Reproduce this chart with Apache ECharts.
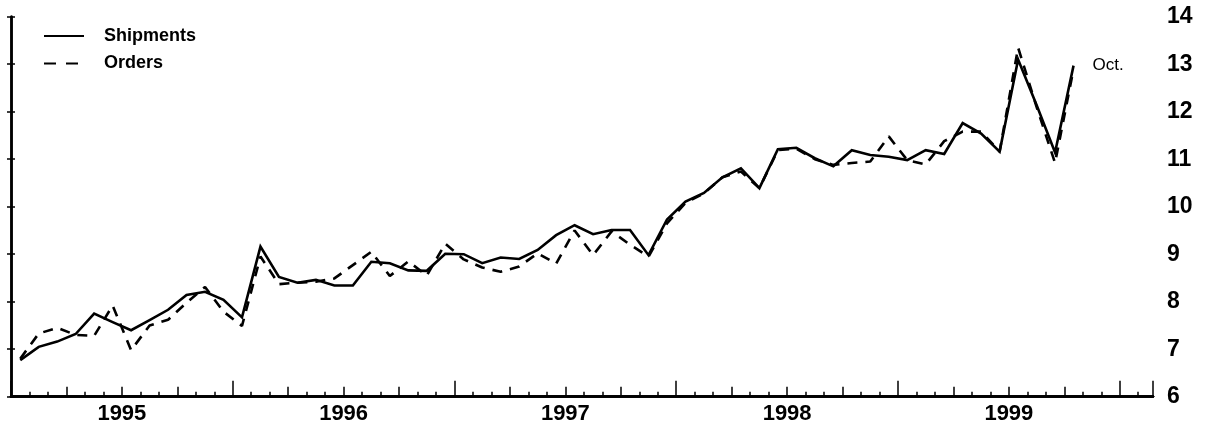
<!DOCTYPE html>
<html>
<head>
<meta charset="utf-8">
<script src="https://cdn.jsdelivr.net/npm/echarts@6/dist/echarts.min.js"></script>
<style>
  html, body { margin: 0; padding: 0; background: #fff; }
  #chart { width: 1212px; height: 430px; }
</style>
</head>
<body>
<div id="chart"></div>
<script>
// Monthly data, Jan 1995 .. Oct 1999
const startYear = 1995;
const shipments = [
  6.77, 7.05, 7.16, 7.32, 7.75, 7.57, 7.40, 7.61, 7.83, 8.14, 8.21, 8.04,
  7.67, 9.16, 8.52, 8.40, 8.46, 8.34, 8.34, 8.84, 8.81, 8.66, 8.65, 9.01,
  9.00, 8.81, 8.93, 8.90, 9.09, 9.40, 9.61, 9.42, 9.51, 9.51, 8.98, 9.73,
  10.11, 10.29, 10.62, 10.81, 10.39, 11.21, 11.24, 11.02, 10.85, 11.19, 11.09, 11.05,
  10.98, 11.19, 11.11, 11.76, 11.54, 11.16, 13.10, 12.14, 11.14, 12.97
];
const orders = [
  6.80, 7.33, 7.45, 7.30, 7.28, 7.92, 6.98, 7.50, 7.62, 7.98, 8.31, 7.79,
  7.49, 8.95, 8.37, 8.40, 8.42, 8.49, 8.77, 9.05, 8.54, 8.85, 8.55, 9.22,
  8.89, 8.72, 8.63, 8.74, 9.02, 8.80, 9.50, 8.98, 9.48, 9.20, 8.95, 9.65,
  10.08, 10.28, 10.62, 10.74, 10.39, 11.19, 11.22, 11.00, 10.88, 10.92, 10.95, 11.48,
  10.98, 10.89, 11.38, 11.58, 11.58, 11.16, 13.35, 12.10, 10.92, 12.90
];
const yearLabels = ['1995', '1996', '1997', '1998', '1999'];
const yTicks = [6, 7, 8, 9, 10, 11, 12, 13, 14];
const seriesNames = ['Shipments', 'Orders'];
const lastLabel = 'Oct.';

const FONT = '"Liberation Sans", Arial, Helvetica, sans-serif';
const xMax = 61.8;

function toPoints(arr) {
  return arr.map((v, i) => [i + 0.5, v]);
}

const baseX = {
  type: 'value', min: 0, max: xMax, position: 'bottom',
  splitLine: { show: false },
  axisLine: { show: true, onZero: false, lineStyle: { color: '#000', width: 2.5 } }
};

const chart = echarts.init(document.getElementById('chart'), null, { renderer: 'canvas' });
chart.setOption({
  backgroundColor: '#fff',
  animation: false,
  textStyle: { fontFamily: FONT },
  grid: { left: 11, right: 59, top: 16.7, bottom: 33.3, containLabel: false },
  legend: {
    show: true,
    orient: 'vertical',
    left: 43, top: 27, padding: 0,
    itemWidth: 40, itemHeight: 14, itemGap: 9.5,
    itemStyle: { opacity: 0 },
    textStyle: { fontFamily: FONT, fontSize: 18, fontWeight: 'bold', color: '#000', lineHeight: 14, padding: [0, 0, 0, 15] },
    data: [
      { name: seriesNames[0] },
      { name: seriesNames[1], lineStyle: { type: [12, 10] } }
    ]
  },
  xAxis: [
    Object.assign({}, baseX, {
      interval: 1,
      axisTick: { show: true, inside: true, length: 5, lineStyle: { color: '#000', width: 1.5 } },
      axisLabel: {
        show: true, margin: 6, color: '#000', fontSize: 22, fontWeight: 'bold', fontFamily: FONT,
        showMinLabel: true, showMaxLabel: false,
        formatter: function (v) {
          const r = Math.round(v);
          if (Math.abs(v - r) < 1e-6 && r % 12 === 6) {
            const k = (r - 6) / 12;
            return yearLabels[k] !== undefined ? yearLabels[k] : '';
          }
          return '';
        }
      }
    }),
    Object.assign({}, baseX, {
      interval: 3,
      axisTick: { show: true, inside: true, length: 10, lineStyle: { color: '#000', width: 1.5 } },
      axisLabel: { show: false }
    }),
    Object.assign({}, baseX, {
      interval: 12,
      axisTick: { show: true, inside: true, length: 16, lineStyle: { color: '#000', width: 1.5 } },
      axisLabel: { show: false }
    })
  ],
  yAxis: [
    {
      type: 'value', position: 'left', min: yTicks[0], max: yTicks[yTicks.length - 1], interval: 1,
      splitLine: { show: false },
      axisLine: { show: true, lineStyle: { color: '#000', width: 2.5 } },
      axisTick: { show: true, inside: true, length: 4, lineStyle: { color: '#000', width: 1.5 } },
      axisLabel: { show: false }
    },
    {
      type: 'value', position: 'right', min: yTicks[0], max: yTicks[yTicks.length - 1], interval: 1,
      splitLine: { show: false },
      axisLine: { show: true, lineStyle: { color: '#000', width: 2.5 } },
      axisTick: { show: true, inside: true, length: 4, lineStyle: { color: '#000', width: 1.5 } },
      axisLabel: { show: true, margin: 14, color: '#000', fontSize: 23, fontWeight: 'bold', fontFamily: FONT }
    }
  ],
  series: [
    {
      name: seriesNames[0], type: 'line', xAxisIndex: 0, yAxisIndex: 0,
      data: toPoints(shipments),
      symbol: 'none', showSymbol: false,
      lineStyle: { color: '#000', width: 2.6, type: 'solid', join: 'miter' },
      itemStyle: { color: '#000' },
      markPoint: {
        symbol: 'circle', symbolSize: 0,
        data: [{ coord: [shipments.length - 0.5, shipments[shipments.length - 1]] }],
        label: {
          show: true, position: 'right', distance: 19, formatter: lastLabel,
          color: '#000', fontSize: 17, fontFamily: FONT
        }
      }
    },
    {
      name: seriesNames[1], type: 'line', xAxisIndex: 0, yAxisIndex: 0,
      data: toPoints(orders),
      symbol: 'none', showSymbol: false,
      lineStyle: { color: '#000', width: 2.6, type: [10, 8] },
      itemStyle: { color: '#000' }
    }
  ]
});
</script>
</body>
</html>
